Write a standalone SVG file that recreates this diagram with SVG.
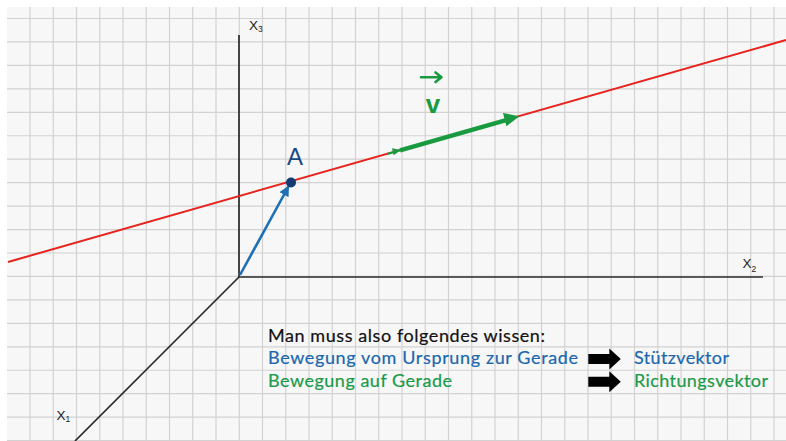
<svg xmlns="http://www.w3.org/2000/svg" width="786" height="441" viewBox="0 0 786 441">
  <style>
    .grid { stroke: #d2d2d2; stroke-width: 1.2; fill: none; }
    .axis { stroke: #2a2a2a; stroke-width: 1.7; fill: none; }
    .axlbl { font-family: "Liberation Sans", Arial, sans-serif; font-size: 13.5px; fill: #222; }
    .sub { font-size: 8.5px; }
    .txt { font-family: Lato, "Open Sans", sans-serif; font-size: 18px; stroke-width: 0.2; }
    .black { fill: #111; stroke: #111; }
    .blue { fill: #1b67ad; stroke: #1b67ad; }
    .green { fill: #1a9a48; stroke: #1a9a48; }
  </style>
  <defs>
    <marker id="blueHead" viewBox="0 0 10 10" refX="9" refY="5" markerWidth="4" markerHeight="4" orient="auto" markerUnits="strokeWidth">
      <path d="M0,0 L10,5 L0,10 Z" fill="#1f6fb5"/>
    </marker>
    <path id="blockArrow" d="M0,5.5 L21,5.5 L21,0 L32.5,10.5 L21,21 L21,15.5 L0,15.5 Z" fill="#000"/>
  </defs>

  <rect x="0" y="0" width="786" height="441" fill="#ffffff"/>
  <rect x="7" y="7" width="779" height="434" fill="#f7f7f7"/>

  <g id="grid">
    <path class="grid" d="M30,7V441 M53.25,7V441 M76.5,7V441 M99.75,7V441 M123,7V441 M146.25,7V441 M169.5,7V441 M192.75,7V441 M216,7V441 M239.25,7V441 M262.5,7V441 M285.75,7V441 M309,7V441 M332.25,7V441 M355.5,7V441 M378.75,7V441 M402,7V441 M425.25,7V441 M448.5,7V441 M471.75,7V441 M495,7V441 M518.25,7V441 M541.5,7V441 M564.75,7V441 M588,7V441 M611.25,7V441 M634.5,7V441 M657.75,7V441 M681,7V441 M704.25,7V441 M727.5,7V441 M750.75,7V441 M774,7V441
      M7,18.5H786 M7,41.95H786 M7,65.4H786 M7,88.85H786 M7,112.3H786 M7,135.75H786 M7,159.2H786 M7,182.65H786 M7,206.1H786 M7,229.55H786 M7,253H786 M7,276.45H786 M7,299.9H786 M7,323.35H786 M7,346.8H786 M7,370.25H786 M7,393.7H786 M7,417.15H786 M7,440.6H786"/>
  </g>

  <g id="connectors">
    <g id="axes">
      <line class="axis" x1="239" y1="35" x2="239" y2="277"/>
      <line class="axis" x1="239" y1="277" x2="763" y2="277"/>
      <line class="axis" x1="239" y1="277" x2="75" y2="441"/>
    </g>
    <line id="gerade" x1="8" y1="262" x2="786" y2="40" stroke="#e8221c" stroke-width="2"/>
    <line id="stuetzvektor" x1="240" y1="275" x2="288.5" y2="186.5" stroke="#1f6fb5" stroke-width="2.6" marker-end="url(#blueHead)"/>
    <g id="richtungsvektor">
      <line x1="387" y1="154" x2="402" y2="149.9" stroke="#1a9a40" stroke-width="2"/>
      <path d="M392,148.3 L401,150.1 L393.6,155.2 Z" fill="#1a9a40"/>
      <line x1="400" y1="150.3" x2="507" y2="119.8" stroke="#1a9a40" stroke-width="4.4"/>
      <path d="M503,113 L519.5,116.2 L506.4,126.3 Z" fill="#1a9a40"/>
    </g>
  </g>

  <g id="axis-labels">
    <text class="axlbl" x="249" y="29.5">X<tspan class="sub" dy="2.5">3</tspan></text>
    <text class="axlbl" x="742.5" y="268">X<tspan class="sub" dy="3.5">2</tspan></text>
    <text class="axlbl" x="56.5" y="420">X<tspan class="sub" dy="2">1</tspan></text>
  </g>

  <g id="point-A">
    <circle cx="291" cy="182.5" r="5" fill="#143c72"/>
    <text x="295" y="165" font-family="Liberation Sans, Arial, sans-serif" font-size="24" fill="#1a4a82" text-anchor="middle">A</text>
  </g>

  <g id="label-v">
    <path d="M421,77.3 L441,77.3 M435.5,72.5 L441.5,77.3 L435.5,82" stroke="#1a9a40" stroke-width="2.6" fill="none" stroke-linecap="round" stroke-linejoin="round"/>
    <text x="433" y="113" font-family="Liberation Sans, Arial, sans-serif" font-size="26" font-weight="bold" fill="#1a9a40" text-anchor="middle">v</text>
  </g>

  <g id="text-block">
    <text class="txt black" x="268" y="341.5" textLength="277">Man muss also folgendes wissen:</text>
    <text class="txt blue" x="268" y="364.3" textLength="310">Bewegung vom Ursprung zur Gerade</text>
    <text class="txt green" x="268" y="386.7" textLength="184">Bewegung auf Gerade</text>
    <use href="#blockArrow" x="588.3" y="348.5"/>
    <use href="#blockArrow" x="588.3" y="371.2"/>
    <text class="txt blue" x="634" y="364.3" textLength="95">Stützvektor</text>
    <text class="txt green" x="634" y="386.7" textLength="134">Richtungsvektor</text>
  </g>
</svg>
